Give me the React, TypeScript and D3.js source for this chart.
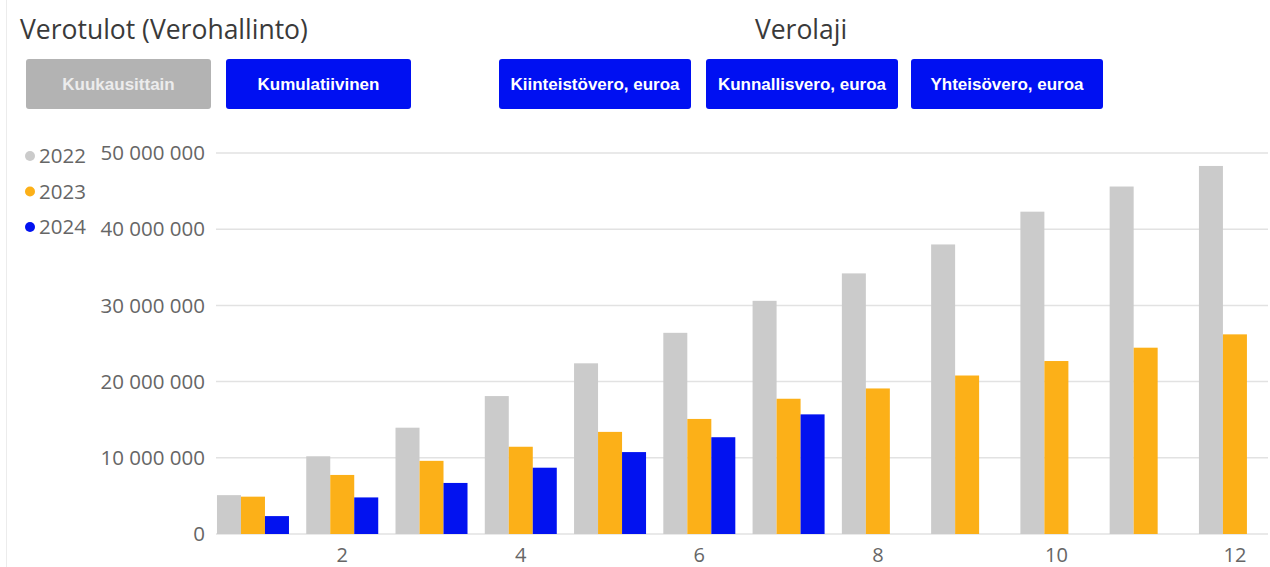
import React from "react";
import * as d3 from "d3";

const months = [1, 2, 3, 4, 5, 6, 7, 8, 9, 10, 11, 12];
const years = ["2022", "2023", "2024"];
const values2022 = [5.1, 10.2, 13.95, 18.1, 22.4, 26.4, 30.6, 34.2, 38.0, 42.3, 45.6, 48.3].map((v) => v * 1e6);
const values2023 = [4.9, 7.75, 9.6, 11.45, 13.4, 15.1, 17.75, 19.1, 20.8, 22.7, 24.45, 26.2].map((v) => v * 1e6);
const values2024 = [2.35, 4.8, 6.7, 8.7, 10.75, 12.7, 15.7, null, null, null, null, null].map((v) => (v == null ? null : v * 1e6));
const yTicks = [0, 10e6, 20e6, 30e6, 40e6, 50e6];
const xTickLabels = [2, 4, 6, 8, 10, 12];
const colors = ["#cbcbcb", "#fcb018", "#0212f0"];
const modeButtons = ["Kuukausittain", "Kumulatiivinen"];
const taxButtons = ["Kiinteistövero, euroa", "Kunnallisvero, euroa", "Yhteisövero, euroa"];

const W = 1270;
const H = 567;
const FONT = "'Segoe UI', 'Open Sans', 'Noto Sans', sans-serif";
const NARROW = "'Liberation Sans Narrow', 'Arial Narrow', 'Liberation Sans', sans-serif";

export default function App() {
  const series = [values2022, values2023, values2024];
  const y = d3.scaleLinear().domain([0, 50e6]).range([534, 153]);
  const x = d3
    .scaleBand<number>()
    .domain(months)
    .range([199.7, 1288.2])
    .paddingInner(0.1935)
    .paddingOuter(0.1935);
  const xs = d3.scaleBand<string>().domain(years).range([0, x.bandwidth()]);
  const fmt = (v: number) => d3.format(",")(v).replace(/,/g, " ");

  const modeX = [26, 226];
  const taxX = [499, 706, 911];

  return (
    <svg width={W} height={H} style={{ position: "absolute", left: 0, top: 0, background: "#fff" }}>
      <line x1={6.5} x2={6.5} y1={0} y2={H} stroke="#ececec" strokeWidth={1} />
      <text x={20} y={39} fontFamily={FONT} fontSize={26.5} fill="#3a3a3a">
        Verotulot (Verohallinto)
      </text>
      <text x={801} y={39} fontFamily={FONT} fontSize={26.5} fill="#3a3a3a" textAnchor="middle">
        Verolaji
      </text>
      {modeButtons.map((b, i) => (
        <g key={b}>
          <rect x={modeX[i]} y={59} width={185} height={50} rx={3} fill={i === 0 ? "#b3b3b3" : "#0010f2"} />
          <text
            x={modeX[i] + 92.5}
            y={84}
            dy="0.35em"
            textAnchor="middle"
            fontFamily={NARROW}
            fontWeight="bold"
            fontSize={17}
            fill={i === 0 ? "#ececec" : "#ffffff"}
          >
            {b}
          </text>
        </g>
      ))}
      {taxButtons.map((b, i) => (
        <g key={b}>
          <rect x={taxX[i]} y={59} width={192} height={50} rx={3} fill="#0010f2" />
          <text
            x={taxX[i] + 96}
            y={84}
            dy="0.35em"
            textAnchor="middle"
            fontFamily={NARROW}
            fontWeight="bold"
            fontSize={17}
            fill="#ffffff"
          >
            {b}
          </text>
        </g>
      ))}
      {/* legend */}
      {years.map((yr, i) => (
        <g key={yr}>
          <circle cx={30} cy={156 + i * 35.5} r={5} fill={colors[i]} />
          <text x={39} y={156 + i * 35.5} dy="0.35em" fontFamily={FONT} fontSize={20.5} fill="#666">
            {yr}
          </text>
        </g>
      ))}
      {/* gridlines and y labels */}
      {yTicks.map((t) => (
        <g key={t}>
          <line x1={216} x2={1268} y1={y(t)} y2={y(t)} stroke="#e2e2e2" strokeWidth={1.5} />
          <text x={205} y={y(t)} dy="0.35em" textAnchor="end" fontFamily={FONT} fontSize={20.5} fill="#666">
            {fmt(t)}
          </text>
        </g>
      ))}
      {/* bars */}
      <g>
        {months.map((m, mi) =>
          series.map((s, si) => {
            const v = s[mi];
            if (v == null) return null;
            return (
              <rect
                key={`${m}-${si}`}
                x={(x(m) as number) + (xs(years[si]) as number)}
                y={y(v)}
                width={xs.bandwidth()}
                height={y(0) - y(v)}
                fill={colors[si]}
              />
            );
          })
        )}
      </g>
      {/* x labels */}
      {xTickLabels.map((m) => (
        <text
          key={m}
          x={(x(m) as number) + x.bandwidth() / 2}
          y={555}
          dy="0.35em"
          textAnchor="middle"
          fontFamily={FONT}
          fontSize={20}
          fill="#666"
        >
          {m}
        </text>
      ))}
    </svg>
  );
}
